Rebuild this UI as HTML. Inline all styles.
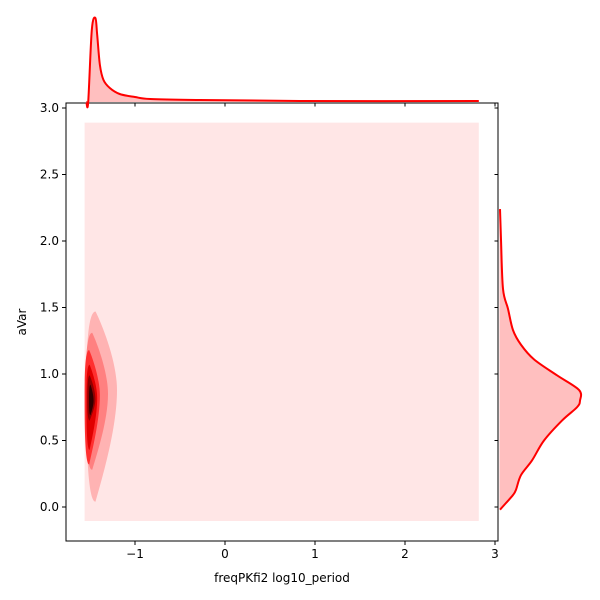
<!DOCTYPE html>
<html><head><meta charset="utf-8"><style>
body{margin:0;background:#fff;}
svg{display:block;font-family:"DejaVu Sans","Liberation Sans",sans-serif;}
</style></head><body>
<svg id="chart" width="600" height="600">
</svg>
<script>
// ---- data ----
const xTicks=[-1,0,1,2,3];
const yTicks=[0.0,0.5,1.0,1.5,2.0,2.5,3.0];
// outer contour bounds (data units)
const outerX=[-1.56,2.82];
const outerY=[-0.105,2.89];
// contour levels: left, right, widest-y, top, bottom (data units)
const levelLeft=[-1.54,-1.55,-1.56,-1.54,-1.53,-1.51];
const levelRight=[-1.20,-1.30,-1.39,-1.42,-1.44,-1.46];
const levelMid=[0.88,0.85,0.84,0.82,0.81,0.80];
const levelTop=[1.47,1.31,1.18,1.07,0.99,0.92];
const levelBottom=[0.04,0.28,0.32,0.43,0.65,0.69];
const levelColors=["#ffb3b3","#ff8080","#ff3030","#e00000","#900000","#300000"];
// top marginal density (x data, density)
const topX=[-1.54,-1.52,-1.48,-1.44,-1.42,-1.39,-1.35,-1.28,-1.17,-1.0,-0.83,-0.28,0.83,2.82];
const topD=[0,0,72,84,67,37,22,14,8,5,3,2,1,1];
// right marginal density (y data, density)
const rightY=[2.24,2.01,1.64,1.49,1.33,1.22,1.11,0.99,0.88,0.80,0.75,0.65,0.50,0.35,0.24,0.13,0.09,0.03,-0.02];
const rightD=[0.5,1.5,3.5,8.5,13.5,21.5,34.5,57.5,79.5,80.5,77.5,62.5,44.5,32.5,21.5,16.5,13.5,6.5,0.5];
// ---- scales ----
const X=v=>225+v*90, Y=v=>507-v*133;
const L=66,R=498,T=103,B=541;
const ns="http://www.w3.org/2000/svg",svg=document.getElementById('chart');
function el(tag,attrs,parent){const e=document.createElementNS(ns,tag);for(const k in attrs)e.setAttribute(k,attrs[k]);(parent||svg).appendChild(e);return e;}
function smooth(p){let d=`M${p[0][0]},${p[0][1]}`;for(let i=0;i<p.length-1;i++){const p0=p[Math.max(0,i-1)],p1=p[i],p2=p[i+1],p3=p[Math.min(p.length-1,i+2)];
 d+=` C${p1[0]+(p2[0]-p0[0])/6},${p1[1]+(p2[1]-p0[1])/6} ${p2[0]-(p3[0]-p1[0])/6},${p2[1]-(p3[1]-p1[1])/6} ${p2[0]},${p2[1]}`;}return d;}
let bg=el('rect',{x:X(outerX[0]),y:Y(outerY[1]),width:X(outerX[1])-X(outerX[0]),height:Y(outerY[0])-Y(outerY[1]),fill:"#ffe6e6"});


for(let i=0;i<levelLeft.length;i++){
  const xl=X(levelLeft[i]),xr=X(levelRight[i]),ym=Y(levelMid[i]),yt=Y(levelTop[i]),yb=Y(levelBottom[i]);
  const xc=xl+(xr-xl)*0.3;
  const d=`M${xc},${yt} C${xl+(xr-xl)*0.55},${yt+(ym-yt)*0.2} ${xr},${ym-(ym-yt)*0.35} ${xr},${ym} C${xr},${ym+(yb-ym)*0.35} ${xl+(xr-xl)*0.5},${yb-(yb-ym)*0.2} ${xc},${yb} C${xl},${yb} ${xl},${ym+(yb-ym)*0.3} ${xl},${ym} C${xl},${ym-(ym-yt)*0.3} ${xl},${yt} ${xc},${yt}Z`;
  const p=el('path',{d:d,fill:levelColors[i]});
  
  
}
const fr=el('rect',{x:L,y:T,width:R-L,height:B-T,fill:"none",stroke:"#000","stroke-width":1});


xTicks.forEach(t=>{
  el('line',{x1:X(t),x2:X(t),y1:B,y2:B+4,stroke:"#000"});
  el('line',{x1:X(t),x2:X(t),y1:T,y2:T+3.5,stroke:"#000"});
  const tx=el('text',{x:X(t),y:B+17,"font-size":12,"text-anchor":"middle"});
  tx.textContent=(t<0?"\u2212"+(-t):t);
  
  
});
yTicks.forEach(t=>{
  el('line',{x1:L-4,x2:L,y1:Y(t),y2:Y(t),stroke:"#000"});
  el('line',{x1:R-3.5,x2:R,y1:Y(t),y2:Y(t),stroke:"#000"});
  const tx=el('text',{x:L-7,y:Y(t)+4,"font-size":12,"text-anchor":"end"});
  tx.textContent=t.toFixed(1);
  
  
});
const xt=el('text',{x:282,y:582,"font-size":12,"text-anchor":"middle"});xt.textContent="freqPKfi2 log10_period";


const yt=el('text',{x:0,y:0,"font-size":12,"text-anchor":"middle",transform:"translate(26,322) rotate(-90)"});yt.textContent="aVar";


// top marginal
let pp=topX.map((v,i)=>[X(v),102-topD[i]]);
let dTop=smooth(pp);
let tp=el('path',{d:dTop+` L${pp[pp.length-1][0]},102 L${pp[0][0]},102Z`,fill:"#ffbfbf"});


let tl=el('path',{d:dTop,fill:"none",stroke:"#ff0000","stroke-width":2,"stroke-linejoin":"round"});


// right marginal
pp=rightY.map((v,i)=>[499.5+rightD[i],Y(v)]);
let dR=smooth(pp);
let rp=el('path',{d:dR+` L499.5,${pp[pp.length-1][1]} L499.5,${pp[0][1]}Z`,fill:"#ffbfbf"});


let rl=el('path',{d:dR,fill:"none",stroke:"#ff0000","stroke-width":2,"stroke-linejoin":"round"});


</script>
</body></html>
